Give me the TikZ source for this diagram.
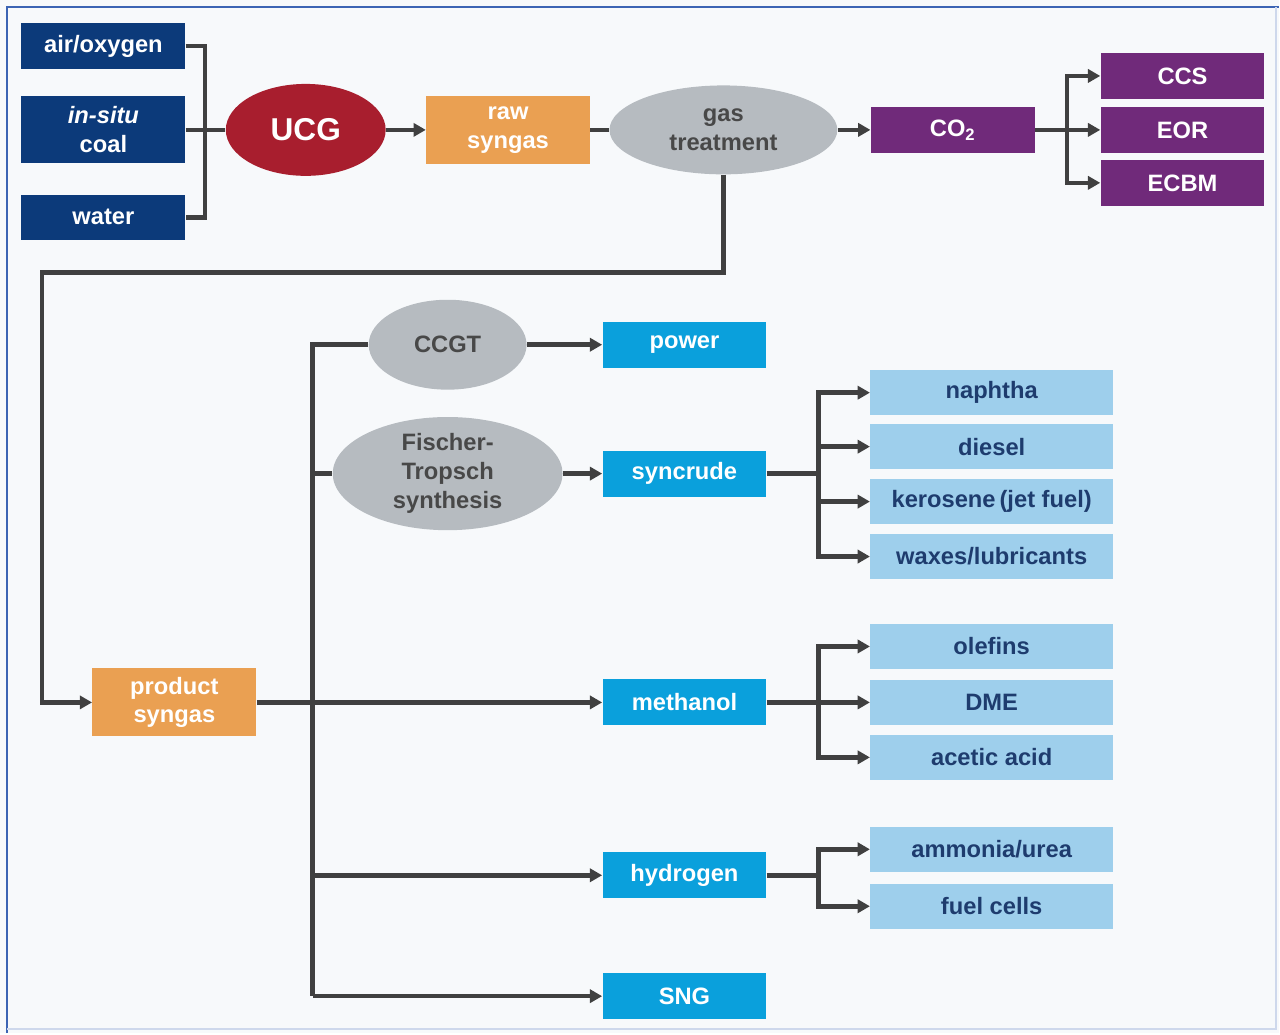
\documentclass[tikz,border=0pt]{standalone}
\usepackage{fontspec}
\setmainfont{Liberation Sans}
\usetikzlibrary{arrows.meta, shapes.geometric, positioning}
\definecolor{feednavy}{RGB}{12,58,122}
\definecolor{ucgred}{RGB}{168,30,46}
\definecolor{syngasorange}{RGB}{234,160,82}
\definecolor{plantgray}{RGB}{182,187,192}
\definecolor{co2purple}{RGB}{112,42,122}
\definecolor{productcyan}{RGB}{10,160,220}
\definecolor{derivblue}{RGB}{158,207,236}
\definecolor{derivtext}{RGB}{30,60,110}
\definecolor{graytext}{RGB}{72,72,72}
\definecolor{linegray}{RGB}{64,64,64}
\definecolor{frameblue}{RGB}{60,100,180}
\definecolor{bgtint}{RGB}{247,249,251}
\newcommand{\flowfont}{\fontsize{13.5}{16.5}\selectfont\bfseries}

\begin{document}
\begin{tikzpicture}[
    box/.style={rectangle, inner sep=0pt, minimum width=3.28cm, minimum height=0.92cm,
                align=center, text=white, font=\flowfont},
    feed/.style={box, fill=feednavy},
    syngas/.style={box, fill=syngasorange, minimum height=1.36cm},
    co2box/.style={box, fill=co2purple},
    product/.style={box, fill=productcyan},
    deriv/.style={box, fill=derivblue, text=derivtext, minimum width=4.86cm, minimum height=0.9cm},
    plant/.style={ellipse, inner sep=0pt, fill=plantgray, text=graytext, align=center, font=\flowfont},
    line/.style={draw=linegray, line width=2.6pt},
    arrow/.style={line, -{Triangle[length=7pt, width=7.5pt]}}
]
% canvas and frame
\fill[bgtint] (0,0) rectangle (25.6,-20.68);
\draw[frameblue, line width=1.2pt] (0.14,-20.68) -- (0.14,-0.14) -- (25.6,-0.14);
\draw[frameblue!25, line width=0.8pt] (25.54,-0.14) -- (25.54,-20.6) -- (0.14,-20.6);

%% gasification row
\node[feed] (air) at (2.07,-0.92) {air/oxygen};
\node[feed, minimum height=1.34cm] (coal) at (2.07,-2.6) {\textit{in-situ}\\coal};
\node[feed, minimum height=0.9cm] (water) at (2.07,-4.35) {water};
\node[plant, fill=ucgred, text=white, minimum width=3.2cm, minimum height=1.84cm,
      font=\fontsize{18}{20}\selectfont\bfseries] (ucg) at (6.12,-2.6) {UCG};
\node[syngas] (raw) at (10.17,-2.6) {raw\\syngas};
\node[plant, minimum width=4.56cm, minimum height=1.78cm] (gas) at (14.48,-2.6) {gas\\treatment};
\node[co2box] (co2) at (19.07,-2.6) {CO\textsubscript{2}};
\node[co2box] (ccs) at (23.67,-1.52) {CCS};
\node[co2box] (eor) at (23.67,-2.6) {EOR};
\node[co2box] (ecbm) at (23.67,-3.66) {ECBM};

\coordinate (feedbus) at (4.1,-2.6);
\coordinate (co2split) at (21.36,-2.6);
\draw[line] (air.east) -| (feedbus) |- (water.east);
\draw[line] (coal.east) -- (ucg.west);
\draw[arrow] (ucg.east) -- (raw.west);
\draw[line] (raw.east) -- (gas.west);
\draw[arrow] (gas.east) -- (co2.west);
\draw[line] (co2.east) -- (co2split);
\foreach \use in {ccs, eor, ecbm}
    \draw[arrow] (co2split) |- (\use.west);

%% syngas utilisation
\node[syngas] (prodgas) at (3.49,-14.06) {product\\syngas};
\node[plant, minimum width=3.16cm, minimum height=1.8cm] (ccgt) at (8.96,-6.9) {CCGT};
\node[plant, minimum width=4.6cm, minimum height=2.2cm] (ft) at (8.96,-9.48)
    {Fischer-\\Tropsch\\synthesis};
\node[product] (power) at (13.7,-6.9) {power};
\node[product] (syncrude) at (13.7,-9.48) {syncrude};
\node[product] (methanol) at (13.7,-14.06) {methanol};
\node[product] (hydrogen) at (13.7,-17.52) {hydrogen};
\node[product] (sng) at (13.7,-19.94) {SNG};

\coordinate (loopturn) at (0.84,-5.46);
\coordinate (busbot) at (6.26,-19.94);
\draw[arrow] (gas.south) |- (loopturn) |- (prodgas.west);
\draw[arrow] (prodgas.east) -- (methanol.west);
\draw[line] (ccgt.west) -| (busbot);
\draw[line] (busbot |- ft) -- (ft.west);
\draw[arrow] (busbot |- hydrogen) -- (hydrogen.west);
\draw[arrow] (busbot) -- (sng.west);
\draw[arrow] (ccgt.east) -- (power.west);
\draw[arrow] (ft.east) -- (syncrude.west);

%% downstream products
\node[deriv] (naphtha) at (19.85,-7.86) {naphtha};
\node[deriv] (diesel) at (19.85,-8.94) {diesel};
\node[deriv] (kerosene) at (19.85,-10.04) {kerosene\,(jet fuel)};
\node[deriv] (waxes) at (19.85,-11.14) {waxes/lubricants};
\node[deriv] (olefins) at (19.85,-12.94) {olefins};
\node[deriv] (dme) at (19.85,-14.06) {DME};
\node[deriv] (acetic) at (19.85,-15.16) {acetic acid};
\node[deriv] (ammonia) at (19.85,-17.0) {ammonia/urea};
\node[deriv] (fuelcells) at (19.85,-18.14) {fuel cells};

\coordinate (synsplit) at (16.38,-9.48);
\coordinate (mesplit) at (16.38,-14.06);
\coordinate (h2split) at (16.38,-17.52);
\draw[line] (syncrude.east) -- (synsplit);
\draw[line] (methanol.east) -- (mesplit);
\draw[line] (hydrogen.east) -- (h2split);
\foreach \p in {naphtha, diesel, kerosene, waxes}
    \draw[arrow] (synsplit) |- (\p.west);
\foreach \p in {olefins, dme, acetic}
    \draw[arrow] (mesplit) |- (\p.west);
\foreach \p in {ammonia, fuelcells}
    \draw[arrow] (h2split) |- (\p.west);
\end{tikzpicture}
\end{document}
